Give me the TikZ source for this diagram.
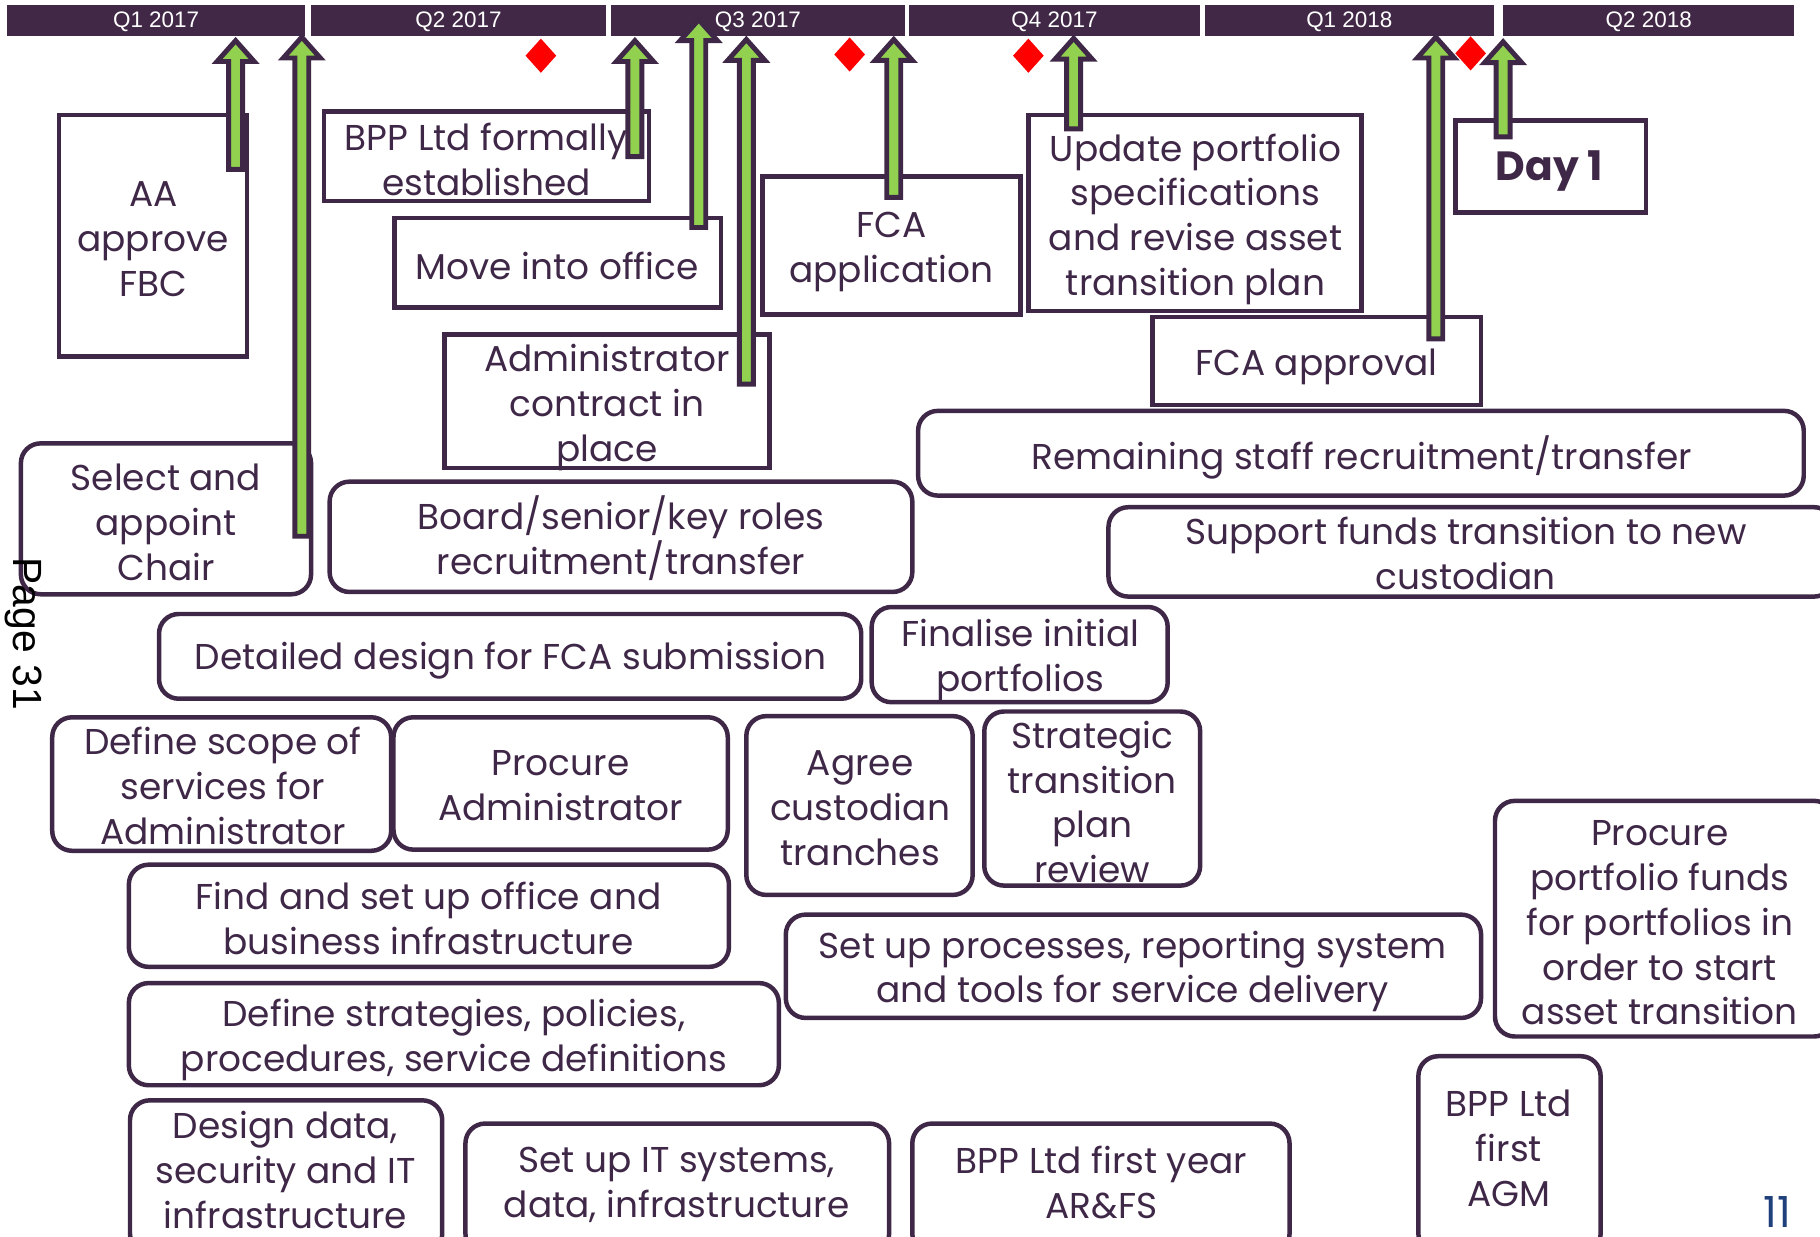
\documentclass[tikz,border=0pt]{standalone}
\usepackage{fontspec}
\setmainfont{Poppins}
\newfontfamily\arialfont{Liberation Sans}
\usepackage{tikz}
\usetikzlibrary{shapes.geometric}

\definecolor{boxplum}{RGB}{63,40,71}
\definecolor{barplum}{RGB}{64,40,70}
\definecolor{arrowgreen}{RGB}{146,208,80}
\definecolor{pagenum}{RGB}{31,64,122}

\begin{document}
\begin{tikzpicture}[x=0.01cm, y=-0.01cm,
    every node/.style={font=\fontsize{8.8}{11}\selectfont, text=boxplum, align=center, inner sep=0pt},
    box/.style={draw=boxplum, line width=1.1pt},
    rbox/.style={draw=boxplum, line width=1.1pt, rounded corners=0.17cm},
    qlbl/.style={text=white, font=\arialfont\fontsize{5.5}{7}\selectfont},
    mstone/.style={diamond, fill=red, minimum width=0.27cm, minimum height=0.3cm, inner sep=0pt},
    blockarrow/.style={draw=boxplum, fill=arrowgreen, line width=1.2pt}]
    \useasboundingbox (0,0) rectangle (1568,1065);
    \clip (0,0) rectangle (1568,1065);

    \foreach \a/\b/\lbl/\nm in {6/263/Q1 2017/qa, 268/522/Q2 2017/qb, 526/780/Q3 2017/qc,
        783/1034/Q4 2017/qd, 1038/1287/Q1 2018/qe, 1295/1546/Q2 2018/qf} {
        \fill[barplum] (\a,4) rectangle (\b,31);
        \node[qlbl] (\nm) at ({(\a+\b)/2},19) {\lbl};
    }

    \draw[box] (51,99) rectangle (213,307);
    \node (aa) at (132,206) {AA\\approve\\FBC};
    \draw[box] (279,96) rectangle (559,173);
    \node (bpp) at (419,137) {BPP Ltd formally\\established};
    \draw[box] (340,188) rectangle (621,265);
    \node (office) at (480,229) {Move into office};
    \draw[box] (383,288) rectangle (663,403);
    \node (admin) at (523,351) {Administrator\\contract in\\place};
    \draw[box] (657,152) rectangle (879,271);
    \node (fcaapp) at (768,217) {FCA\\application};
    \draw[box] (886,99) rectangle (1173,268);
    \node (update) at (1030,189) {Update portfolio\\specifications\\and revise asset\\transition plan};
    \draw[box] (993,273) rectangle (1276,349);
    \node (fcaok) at (1134,316) {FCA approval};
    \draw[box] (1254,104) rectangle (1418,183);
    \node[font=\bfseries\fontsize{10}{12}\selectfont] (day1) at (1335,147) {Day 1};

    \draw[rbox] (18,382) rectangle (268,512);
    \node (chair) at (143,450) {Select and\\appoint\\Chair};
    \draw[rbox] (284,415) rectangle (786,510);
    \node (board) at (535,464) {Board/senior/key roles\\recruitment/transfer};
    \draw[rbox] (791,354) rectangle (1554,427);
    \node (staff) at (1173,394) {Remaining staff recruitment/transfer};
    \draw[rbox] (955,437) rectangle (1580,514);
    \node (custodian) at (1263,477) {Support funds transition to new\\custodian};
    \draw[rbox] (137,529) rectangle (742,602);
    \node (design) at (440,569) {Detailed design for FCA submission};
    \draw[rbox] (751,523) rectangle (1006,605);
    \node (finalise) at (879,569) {Finalise initial\\portfolios};
    \draw[rbox] (45,618) rectangle (337,733);
    \node (scope) at (192,677) {Define scope of\\services for\\Administrator};
    \draw[rbox] (339,618) rectangle (627,732);
    \node (procadmin) at (483,677) {Procure\\Administrator};
    \draw[rbox] (643,617) rectangle (838,771);
    \node (tranches) at (741,696) {Agree\\custodian\\tranches};
    \draw[rbox] (848,613) rectangle (1034,763);
    \node (review) at (941,691) {Strategic\\transition\\plan\\review};
    \draw[rbox] (111,745) rectangle (628,833);
    \node (setoffice) at (369,791) {Find and set up office and\\business infrastructure};
    \draw[rbox] (677,788) rectangle (1276,877);
    \node (processes) at (976,837) {Set up processes, reporting system\\and tools for service delivery};
    \draw[rbox] (1288,690) rectangle (1580,893);
    \node (procfunds) at (1430,795) {Procure\\portfolio funds\\for portfolios in\\order to start\\asset transition};
    \draw[rbox] (111,847) rectangle (671,935);
    \node (policies) at (391,896) {Define strategies, policies,\\procedures, service definitions};
    \draw[rbox] (112,948) rectangle (381,1080);
    \node (datasec) at (246,1008) {Design data,\\security and IT\\infrastructure};
    \draw[rbox] (401,968) rectangle (766,1080);
    \node (itsys) at (583,1021) {Set up IT systems,\\data, infrastructure};
    \draw[rbox] (786,968) rectangle (1111,1080);
    \node (arfs) at (949,1019) {BPP Ltd first year\\AR\&FS};
    \draw[rbox] (1222,910) rectangle (1379,1080);
    \node (agm) at (1300,989) {BPP Ltd\\first\\AGM};

    \foreach \x/\y/\nm in {466/48/da, 732/47/db, 886/48/dc, 1267/46/dd}
        \node[mstone] (\nm) at (\x,\y) {};

    \foreach \x/\t/\b in {203/35/146, 260/32/462, 547/35/135, 602/17/196, 643/34/331,
        770/34/170, 925/33/111, 1237/32/292, 1295/36/118} {
        \draw[blockarrow] ({\x-6},\b) -- ({\x-6},{\t+18}) -- ({\x-16},{\t+18}) -- (\x,\t)
            -- ({\x+16},{\t+18}) -- ({\x+6},{\t+18}) -- ({\x+6},\b) -- cycle;
    }

    \node[text=black, rotate=-90, font=\arialfont\fontsize{10}{12}\selectfont] (page) at (20,546) {Page 31};
    \node[text=pagenum, font=\fontsize{10.5}{12}\selectfont] (pnum) at (1531,1044) {11};
\end{tikzpicture}
\end{document}
